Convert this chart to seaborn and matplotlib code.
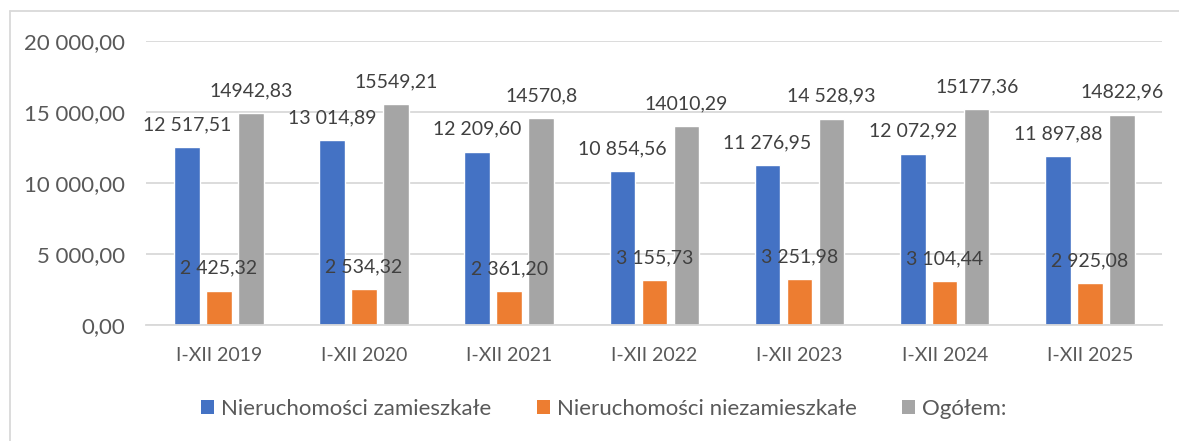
import matplotlib
matplotlib.use("Agg")
import matplotlib.pyplot as plt
from matplotlib.lines import Line2D
from matplotlib.patches import Patch
import seaborn as sns
import pandas as pd

periods = ["I-XII 2019", "I-XII 2020", "I-XII 2021", "I-XII 2022",
           "I-XII 2023", "I-XII 2024", "I-XII 2025"]
series = ["Nieruchomości zamieszkałe", "Nieruchomości niezamieszkałe", "Ogółem:"]
zamieszkale = [12517.51, 13014.89, 12209.60, 10854.56, 11276.95, 12072.92, 11897.88]
niezamieszkale = [2425.32, 2534.32, 2361.20, 3155.73, 3251.98, 3104.44, 2925.08]
ogolem = [14942.83, 15549.21, 14570.8, 14010.29, 14528.93, 15177.36, 14822.96]
ogolem_labels = ["14942,83", "15549,21", "14570,8", "14010,29",
                 "14 528,93", "15177,36", "14822,96"]
colors = ["#4472C4", "#ED7D31", "#A5A5A5"]


def pl_fmt(v):
    s = f"{v:,.2f}"
    return s.replace(",", " ").replace(".", ",")


df = pd.DataFrame({
    "okres": periods * 3,
    "seria": [series[0]] * 7 + [series[1]] * 7 + [series[2]] * 7,
    "wartosc": zamieszkale + niezamieszkale + ogolem,
})

sns.set_theme(style="white")
plt.rcParams["font.family"] = ["Lato", "DejaVu Sans"]
txt = "#595959"

fig = plt.figure(figsize=(11.79, 4.41), dpi=100)
ax = fig.add_axes([0.124, 0.263, 0.862, 0.644])

sns.barplot(data=df, x="okres", y="wartosc", hue="seria", palette=colors,
            width=0.66, gap=0.2, saturation=1, ax=ax, legend=False)

labels = [[pl_fmt(v) for v in zamieszkale],
          [pl_fmt(v) for v in niezamieszkale],
          ogolem_labels]
for cont, labs in zip(ax.containers, labels):
    ax.bar_label(cont, labels=labs, padding=10, fontsize=14, color="#404040")

ax.set_ylim(0, 20000)
ax.set_xlim(-0.5, 6.5)
ax.set_yticks(range(0, 20001, 5000))
ax.set_yticklabels([pl_fmt(v) for v in range(0, 20001, 5000)])
ax.yaxis.grid(True, color="#D9D9D9", linewidth=1.3)
ax.set_axisbelow(True)
for sp in ["top", "right", "left"]:
    ax.spines[sp].set_visible(False)
ax.spines["bottom"].set_color("#D9D9D9")
ax.spines["bottom"].set_linewidth(1.3)
ax.set_xlabel("")
ax.set_ylabel("")
ax.tick_params(axis="x", length=0, labelsize=14, labelcolor=txt, pad=16)
ax.tick_params(axis="y", length=0, labelsize=16, labelcolor=txt, pad=15)

handles = [Patch(facecolor=c, edgecolor="none") for c in colors]
fig.legend(handles, series, loc="center", bbox_to_anchor=(0.512, 0.072),
           ncol=3, frameon=False, fontsize=16, labelcolor=txt,
           handlelength=0.6, handleheight=0.6, handletextpad=0.3,
           columnspacing=2.05)

# chart frame (left and top edges visible in the screenshot)
fig.add_artist(Line2D([10 / 1179, 10 / 1179], [0, 1 - 11 / 441],
                      transform=fig.transFigure, color="#D9D9D9", linewidth=1.3))
fig.add_artist(Line2D([10 / 1179, 1], [1 - 11 / 441, 1 - 11 / 441],
                      transform=fig.transFigure, color="#D9D9D9", linewidth=1.3))

fig.savefig("out.png", dpi=100, facecolor="white")
